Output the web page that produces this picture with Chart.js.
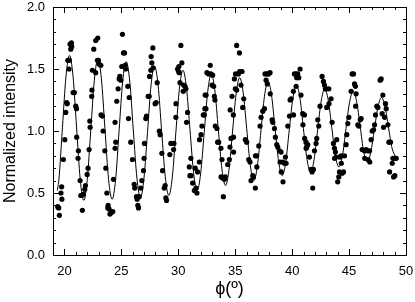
<!DOCTYPE html>
<html>
<head>
<meta charset="utf-8">
<script src="https://cdn.jsdelivr.net/npm/chart.js@4"></script>
<style>
html, body { margin: 0; padding: 0; background: #fff; }
</style>
</head>
<body>
<canvas id="myChart" width="415" height="302"></canvas>
<script>
// measured points (phi in degrees, normalized intensity)
const phiX = [
  19.41, 19.50, 19.56, 19.70, 19.76, 19.78, 19.91, 20.04, 20.12, 20.20, 20.25, 20.30, 20.41, 20.44, 20.50, 20.56, 20.62, 20.64,
  20.77, 20.88, 21.00, 21.06, 21.08, 21.20, 21.23, 21.38, 21.44, 21.52, 21.58, 21.67, 21.79, 21.85,
  22.00, 22.08, 22.17, 22.23, 22.26, 22.40, 22.42, 22.46, 22.58, 22.75, 22.75, 22.90, 22.93, 22.99, 23.05, 23.20,
  23.22, 23.34, 23.40, 23.55, 23.64, 23.73, 23.81, 23.84, 23.93, 24.00, 24.10, 24.25,
  24.31, 24.45, 24.51, 24.45, 24.60, 24.72, 24.81, 24.87, 24.95, 25.04, 25.10, 25.19, 25.28, 25.33, 25.39,
  25.57, 25.63, 25.69, 25.83, 25.98, 26.13, 26.18, 26.33, 26.39, 26.45, 26.51, 26.57,
  26.71, 26.80, 26.95, 27.00, 27.03, 27.15, 27.21, 27.36, 27.45, 27.48, 27.59, 27.62, 27.68, 27.77, 27.80,
  27.97, 28.06, 28.15, 28.33, 28.41, 28.56, 28.62, 28.77, 28.85, 28.91, 28.97, 29.26, 29.35,
  29.59, 29.62, 29.79, 29.80, 29.94, 30.03, 30.05, 30.09, 30.15, 30.23, 30.32, 30.44, 30.47, 30.59, 30.67,
  30.73, 30.82, 30.97, 31.02, 31.11, 31.13, 31.26, 31.41, 31.49, 31.55, 31.64,
  31.70, 31.85, 31.87, 32.00, 32.08, 32.20, 32.29, 32.34, 32.36, 32.43, 32.45, 32.52, 32.67, 32.81, 32.87, 32.96, 33.02,
  33.11, 33.17, 33.22, 33.25, 33.40, 33.46, 33.55, 33.75, 33.76, 33.84, 33.90, 33.96, 34.05, 34.13,
  34.34, 34.49, 34.54, 34.56, 34.63, 34.72,
  34.84, 34.85, 34.86, 34.93, 35.01, 35.03, 35.13, 35.13, 35.28, 35.37, 35.39, 35.51, 35.60,
  35.66, 35.75, 35.89, 36.01, 36.19, 36.30, 36.39, 36.54, 36.60, 36.77,
  36.78, 36.89, 36.90, 37.07, 37.18, 37.27, 37.42, 37.57, 37.62, 37.71, 37.80, 37.82, 37.92, 38.06,
  38.08, 38.24, 38.30, 38.45, 38.53, 38.65, 38.74, 38.89, 38.94, 39.03, 39.05, 39.18, 39.20, 39.33,
  39.41, 39.47, 39.62, 39.77, 39.82, 39.91,
  40.11, 40.12, 40.20, 40.34, 40.35, 40.40, 40.49, 40.58, 40.70,
  40.78, 40.93, 40.95, 41.08, 41.10, 41.22, 41.23, 41.28, 41.37, 41.52, 41.66, 41.75, 41.81,
  41.87, 41.96, 42.10, 42.16, 42.25, 42.34, 42.45, 42.63, 42.75, 42.84, 42.92, 42.98,
  43.04, 43.22, 43.24, 43.42, 43.51, 43.63, 43.72, 43.73, 43.80, 43.86, 43.92, 44.00, 44.10, 44.16, 44.18, 44.30, 44.32, 44.39, 44.51,
  44.60, 44.74, 44.80, 44.89, 44.98, 45.18, 45.27,
  45.39, 45.48, 45.56, 45.58, 45.62, 45.77, 45.86, 45.98, 46.06,
  46.15, 46.36, 46.38, 46.50, 46.65, 46.67, 46.80, 46.82,
  46.94, 47.03, 47.15, 47.24, 47.32, 47.44, 47.53, 47.73, 47.82,
  47.91, 47.97, 48.03, 48.12, 48.20, 48.26, 48.41, 48.50, 48.56, 48.64, 48.79, 48.85, 48.91, 49.00, 49.02, 49.14
];
const intensity = [
  0.39, 0.38, 0.32, 0.50, 0.55, 0.45, 0.77, 0.93, 1.15, 1.23, 1.22, 1.57, 1.50, 1.57, 1.70, 1.66, 1.71, 1.68,
  1.31, 1.31, 1.20, 1.18, 0.95, 0.78, 0.84, 0.60, 0.48, 0.48, 0.36, 0.49, 0.53, 0.56,
  0.65, 0.70, 0.85, 1.08, 1.03, 1.28, 1.33, 1.49, 1.66, 1.73, 1.47, 1.57, 1.75, 1.57, 1.54, 1.53,
  1.13, 1.12, 1.00, 0.84, 0.70, 0.50, 0.38, 0.40, 0.37, 0.33, 0.34, 0.35,
  0.61, 0.86, 0.91, 1.07, 1.24, 1.34, 1.42, 1.44, 1.41, 1.52, 1.78, 1.63, 1.63, 1.53, 1.50,
  1.36, 1.10, 1.27, 0.91, 0.77, 0.57, 0.54, 0.47, 0.45, 0.40, 0.38, 0.47,
  0.54, 0.60, 0.68, 0.78, 0.90, 1.10, 1.12, 1.28, 1.28, 1.44, 1.49, 1.60, 1.55, 1.67, 1.51,
  1.22, 1.23, 1.39, 1.00, 0.97, 0.82, 0.68, 0.54, 0.56, 0.46, 0.44, 0.81, 0.90,
  0.85, 0.90, 1.11, 1.22, 1.50, 1.48, 1.52, 1.47, 1.39, 1.69, 1.55, 1.32, 1.37, 1.36, 1.34,
  1.07, 1.15, 0.71, 0.64, 0.78, 0.64, 0.58, 0.52, 0.70, 0.54, 0.50,
  0.67, 0.75, 0.93, 0.97, 1.04, 1.13, 1.13, 1.18, 1.29, 1.18, 1.29, 1.47, 1.46, 1.53, 1.46, 1.37, 1.45,
  1.36, 1.28, 1.25, 1.04, 1.02, 0.91, 0.91, 0.86, 0.63, 0.77, 0.62, 0.47, 0.61, 0.63,
  0.73, 0.77, 0.87, 1.17, 0.94, 1.28,
  1.13, 0.95, 0.83, 1.42, 1.34, 1.46, 1.33, 1.69, 1.46, 1.63, 1.48, 1.37, 1.48,
  1.19, 1.26, 0.93, 0.91, 0.77, 0.75, 0.60, 0.64, 0.63, 0.54,
  0.80, 0.80, 0.71, 0.88, 1.04, 1.11, 1.16, 1.18, 1.46, 1.41, 1.46, 1.38, 1.46, 1.47,
  1.30, 1.09, 1.07, 1.02, 0.95, 0.89, 0.87, 0.84, 0.75, 0.83, 0.67, 0.75, 0.59, 0.74,
  0.79, 0.74, 1.04, 1.12, 1.25, 1.26,
  1.32, 1.13, 1.46, 1.46, 1.36, 1.43, 1.46, 1.43, 1.50,
  1.29, 1.14, 1.05, 1.13, 0.94, 0.91, 0.86, 0.87, 0.89, 0.79, 0.69, 0.67, 0.54,
  0.69, 0.84, 0.90, 0.94, 1.09, 1.04, 1.20, 1.44, 1.40, 1.37, 1.34, 1.34,
  1.19, 1.34, 1.22, 1.26, 1.07, 0.90, 0.86, 0.78, 0.83, 0.79, 0.93, 0.59, 0.63, 0.67, 0.79, 0.80, 0.74, 0.66, 0.67,
  0.80, 0.89, 0.97, 1.06, 1.11, 1.32, 1.46,
  1.46, 1.38, 1.36, 1.20, 1.30, 1.05, 1.04, 1.09, 1.10,
  0.85, 0.84, 0.78, 0.85, 0.84, 0.77, 0.84, 0.75,
  0.93, 1.00, 1.01, 1.05, 1.13, 1.20, 1.19, 1.41, 1.42,
  1.14, 1.29, 1.03, 1.11, 1.22, 1.18, 1.05, 0.91, 0.67, 0.91, 0.74, 0.78, 0.63, 0.78, 0.64, 0.78
];

const fitX = [
  19.38, 19.52, 19.83, 20.14, 20.45, 20.76, 21.07, 21.39, 21.70, 22.01, 22.32, 22.63, 22.94,
  23.25, 23.56, 23.88, 24.19, 24.50, 24.81, 25.12, 25.43, 25.74, 26.05, 26.37, 26.68,
  26.99, 27.30, 27.61, 27.92, 28.23, 28.54, 28.86, 29.17, 29.48, 29.79, 30.10, 30.41,
  30.72, 31.03, 31.35, 31.66, 31.97, 32.28, 32.59, 32.90, 33.21, 33.52, 33.84, 34.15,
  34.46, 34.77, 35.08, 35.39, 35.70, 36.01, 36.33, 36.64, 36.95, 37.26, 37.57, 37.88,
  38.19, 38.50, 38.82, 39.13, 39.44, 39.75, 40.06, 40.37, 40.68, 40.99, 41.31, 41.62,
  41.93, 42.24, 42.55, 42.86, 43.17, 43.48, 43.80, 44.11, 44.42, 44.73, 45.04, 45.35,
  45.66, 45.97, 46.29, 46.60, 46.91, 47.22, 47.53, 47.84, 48.15, 48.46, 48.78, 49.09
];
const fitY = [
  0.52, 0.61, 1.03, 1.44, 1.61, 1.44, 1.03, 0.61, 0.44, 0.61, 1.01, 1.41, 1.58,
  1.42, 1.02, 0.61, 0.45, 0.61, 1.01, 1.40, 1.56, 1.40, 1.01, 0.62, 0.46,
  0.62, 0.99, 1.37, 1.52, 1.37, 1.00, 0.63, 0.48, 0.63, 0.99, 1.34, 1.49,
  1.35, 1.01, 0.66, 0.52, 0.66, 0.99, 1.32, 1.46, 1.33, 1.01, 0.69, 0.56,
  0.69, 1.00, 1.30, 1.43, 1.31, 1.02, 0.72, 0.60, 0.72, 1.00, 1.28, 1.40,
  1.29, 1.02, 0.75, 0.64, 0.75, 1.01, 1.26, 1.37, 1.27, 1.02, 0.77, 0.67,
  0.77, 1.01, 1.24, 1.34, 1.25, 1.03, 0.80, 0.71, 0.80, 1.02, 1.23, 1.32,
  1.24, 1.04, 0.83, 0.75, 0.83, 1.01, 1.19, 1.27, 1.20, 1.03, 0.86, 0.79
];

const xTicks = [20, 25, 30, 35, 40, 45, 50];
const yTicks = [0, 0.5, 1.0, 1.5, 2.0];

const ctx = document.getElementById('myChart');
const fontFamily = "Arial, 'Liberation Sans', sans-serif";

// box round the plot with short inward ticks on all four sides
const frameTicks = {
  id: 'frameTicks',
  afterDatasetsDraw(chart) {
    const c = chart.ctx;
    const a = chart.chartArea;
    const x = chart.scales.x, y = chart.scales.y;
    c.save();
    c.strokeStyle = '#000';
    c.lineWidth = 1;
    c.beginPath();
    for (let v = 19; v <= 50; v++) {
      const px = Math.round(x.getPixelForValue(v)) + 0.5;
      const len = v % 5 === 0 ? 6 : 3;
      c.moveTo(px, a.bottom); c.lineTo(px, a.bottom - len);
      c.moveTo(px, a.top); c.lineTo(px, a.top + len);
    }
    for (let i = 0; i <= 20; i++) {
      const py = Math.round(y.getPixelForValue(i / 10)) + 0.5;
      const len = i % 5 === 0 ? 6 : 3;
      c.moveTo(a.left, py); c.lineTo(a.left + len, py);
      c.moveTo(a.right, py); c.lineTo(a.right - len, py);
    }
    c.stroke();
    c.strokeRect(Math.round(a.left) + 0.5, Math.round(a.top) + 0.5,
      Math.round(a.right - a.left), Math.round(a.bottom - a.top));
    c.restore();
  }
};

const points = phiX.map((v, i) => ({ x: v, y: intensity[i] }));
const fit = fitX.map((v, i) => ({ x: v, y: fitY[i] }));

new Chart(ctx, {
  type: 'scatter',
  data: {
    datasets: [{
      type: 'line',
      data: fit,
      borderColor: '#000',
      borderWidth: 1,
      pointRadius: 0,
      cubicInterpolationMode: 'monotone',
      fill: false
    }, {
      data: points,
      backgroundColor: '#000',
      borderWidth: 0,
      pointRadius: 2.6
    }]
  },
  options: {
    responsive: false,
    animation: false,
    devicePixelRatio: 1,
    layout: { padding: { top: 7, right: 9, left: 0, bottom: 0 } },
    plugins: { legend: { display: false }, tooltip: { enabled: false } },
    scales: {
      x: {
        type: 'linear',
        min: 19,
        max: 50,
        grid: { display: false, drawTicks: false },
        border: { display: false },
        afterBuildTicks: (scale) => { scale.ticks = xTicks.map(v => ({ value: v })); },
        afterFit: (scale) => {
          scale.height = 47;
          scale.paddingLeft = 0;
          scale.paddingRight = 0;
        },
        ticks: {
          color: '#000',
          padding: 9,
          font: { family: fontFamily, size: 13 },
          callback: (v) => String(v)
        },
        title: {
          display: true,
          text: 'ϕ(º)',
          color: '#000',
          padding: { top: 0, bottom: 2 },
          font: { family: fontFamily, size: 18 }
        }
      },
      y: {
        type: 'linear',
        min: 0,
        max: 2,
        grid: { display: false, drawTicks: false },
        border: { display: false },
        afterBuildTicks: (scale) => { scale.ticks = yTicks.map(v => ({ value: v })); },
        afterFit: (scale) => {
          scale.width = 53;
          scale.paddingTop = 0;
          scale.paddingBottom = 0;
        },
        ticks: {
          color: '#000',
          padding: 8,
          font: { family: fontFamily, size: 13 },
          callback: (v) => Number(v).toFixed(1)
        },
        title: {
          display: true,
          text: 'Normalized intensity',
          color: '#000',
          padding: { top: 1, bottom: 0 },
          font: { family: fontFamily, size: 16 }
        }
      }
    }
  },
  plugins: [frameTicks]
});
</script>
</body>
</html>
